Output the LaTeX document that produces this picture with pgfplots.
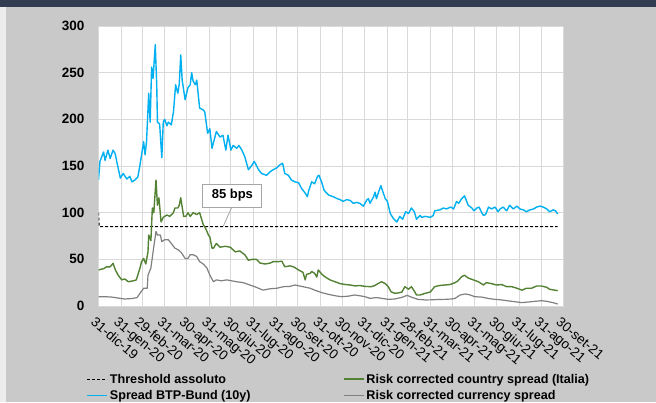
\documentclass[border=0pt]{standalone}
\usepackage{fontspec}
\setmainfont{Liberation Sans}
\usepackage{pgfplots}
\pgfplotsset{compat=1.18}

\definecolor{bgcol}{HTML}{C9C9C9}
\definecolor{stripcol}{HTML}{EDEDED}
\definecolor{titlecol}{HTML}{323D52}
\definecolor{gridcol}{HTML}{D9D9D9}
\definecolor{spreadblue}{HTML}{00B0F0}
\definecolor{countrygreen}{HTML}{548235}
\definecolor{currgrey}{HTML}{808080}
\definecolor{annotcol}{HTML}{A6A6A6}

\begin{document}
\begin{tikzpicture}[x=1pt,y=1pt]
\fill[bgcol] (0,0) rectangle (656,402);
\fill[stripcol] (0,0) rectangle (6,395);
\fill[titlecol] (0,395) rectangle (656,402);

\begin{axis}[
    at={(98.5pt,96pt)}, anchor=origin,
    scale only axis, width=465pt, height=280pt,
    xmin=0, xmax=639, ymin=0, ymax=300,
    xtick={0,31,60,91,121,152,182,213,244,274,305,335,366,397,425,456,486,517,547,578,609,639},
    xticklabels={31-dic-19,31-gen-20,29-feb-20,31-mar-20,30-apr-20,31-mag-20,30-giu-20,31-lug-20,31-ago-20,30-set-20,31-ott-20,30-nov-20,31-dic-20,31-gen-21,28-feb-21,31-mar-21,30-apr-21,31-mag-21,30-giu-21,31-lug-21,31-ago-21,30-set-21},
    ytick={0,50,...,300},
    major tick length=0pt,
    xmajorgrids, ymajorgrids,
    grid style={draw=gridcol, line width=0.9pt},
    axis line style={draw=gridcol, line width=0.9pt},
    axis background/.style={fill=white},
    /pgf/number format/assume math mode=true,
    xticklabel style={xshift=-2pt, yshift=-10pt, rotate=-40, anchor=north west, inner sep=0pt,
        font=\fontsize{13.5}{13}\selectfont},
    yticklabel style={xshift=-10.5pt, font=\bfseries\fontsize{13.5}{13.5}\selectfont},
    legend columns=2,
    legend cell align=left,
    legend style={at={(axis description cs:-0.027,-0.235)}, anchor=north west,
        draw=none, fill=none, inner sep=0pt, row sep=1.5pt,
        font=\bfseries\fontsize{12.6}{13}\selectfont,
        /tikz/every even column/.append style={column sep=90pt}},
    legend image code/.code={\draw[#1] (0pt,0pt) -- (20pt,0pt);},
]

\addplot[black, line width=1.1pt, dash pattern=on 3pt off 2pt] coordinates {
(0,100) (1,85) (631,85)
};
\addlegendentry{Threshold assoluto}

\addplot[countrygreen, line width=1.4pt, line join=round,
    legend image post style={line width=1.8pt}] coordinates {
(0,38.6) (7,40) (11,42) (16,42) (20,45.7) (23,39) (27,33) (32,28) (36,29) (41,26)
(48,27) (52,28) (57,40.7) (59,47) (62,51) (65,45) (68,58) (69,76) (72,70) (74,105)
(76,100) (79,135) (81,108) (83,116) (86,90) (89,95) (94,97.5) (98,96) (103,100) (105,105)
(109,105) (111,108) (113,116) (117,96) (120,96) (123,100) (126,96) (130,100) (135,98) (139,100)
(144,87) (146,85) (149,80) (151,76) (153,74) (156,62) (158,62) (162,67) (167,63) (174,64)
(181,63) (188,58) (194,59) (201,55) (206,49) (211,50) (217,50) (222,46) (229,45) (236,46)
(240,47.5) (247,47.5) (252,48) (256,42) (263,43) (268,42) (275,38.6) (281,36) (284,28) (286,34)
(291,35) (293,37) (297,35) (300,31) (302,38.6) (307,34) (311,31.4) (318,28) (325,26) (332,24)
(339,23) (346,22.5) (353,21.5) (359,22) (366,21) (375,20.7) (380,22) (384,24) (389,26) (394,24)
(398,21) (402,15.3) (407,13.6) (412,14) (417,15) (421,20.7) (426,18) (430,20.7) (434,16) (437,11.8)
(442,11.8) (449,13.6) (456,15) (462,20.7) (469,22) (476,22.5) (483,23) (490,25) (494,27) (499,31.4)
(503,33) (508,30) (515,28) (522,26) (529,22.5) (533,25) (540,24) (547,22.5) (554,23) (561,20.7)
(568,20.7) (575,19) (582,17) (588,19) (595,19) (602,21.4) (609,21.4) (616,20) (620,17.9) (627,17)
(631,16.4)
};
\addlegendentry{Risk corrected country spread (Italia)}

\addplot[spreadblue, line width=1.4pt, line join=round,
    legend image post style={line width=1.8pt}] coordinates {
(0,135) (2,155) (7,165) (9,156) (13,167) (16,158) (20,167) (23,163) (25,155) (30,137)
(34,142) (39,136) (43,139) (46,133) (50,135) (54,138) (57,151) (62,176) (64,162) (66,176)
(69,228) (71,197) (73,256) (75,244) (78,280) (80,237) (81,197) (84,195) (87,159) (89,197)
(91,200) (94,193) (96,197) (100,194) (103,208) (106,237) (109,228) (111,238) (113,269) (115,242)
(119,221) (123,234) (126,237) (128,250) (130,241) (133,237) (135,242) (139,212) (144,210) (146,208)
(150,185) (153,190) (156,169) (162,187) (167,181) (171,183) (175,167) (178,183) (182,167) (185,172)
(190,169) (193,172) (197,167) (201,160) (206,146) (211,151) (214,155) (220,146) (224,142) (231,140)
(236,144) (240,146) (245,148) (249,151) (253,153) (256,142) (261,140) (265,135) (270,133) (275,132)
(279,126) (284,121) (287,117) (289,124) (293,133) (297,131) (301,139) (303,140) (307,132) (310,124)
(316,119) (323,117) (328,115) (332,114) (336,112) (341,114) (346,113) (350,110) (355,111) (359,110)
(364,107) (369,114) (371,115) (373,110) (378,117) (380,122) (382,115) (384,120) (388,129) (391,122)
(394,115) (397,112) (401,99) (405,94) (410,90) (414,96) (418,93) (422,101) (426,99) (430,105)
(434,101) (437,93) (442,97) (444,95) (449,96) (456,95) (460,97) (462,102) (469,103) (474,105)
(478,104) (484,106) (488,104) (492,112) (495,110) (499,115) (503,118) (506,112) (508,108) (513,105)
(516,102) (520,105) (523,106) (526,101) (529,97) (532,98) (536,106) (540,104) (545,106) (549,101)
(552,104) (556,106) (561,102) (565,108) (570,104) (575,107) (579,104) (584,103) (588,101) (593,103)
(598,104) (602,106) (607,107) (611,106) (616,104) (620,101) (625,103) (628,102) (631,98.6)
};
\addlegendentry{Spread BTP-Bund (10y)}

\addplot[currgrey, line width=1.2pt, line join=round,
    legend image post style={line width=1.8pt}] coordinates {
(0,10) (9,10) (19,9.5) (27,8.5) (36,7.5) (46,8) (53,9) (57,13.6) (62,19) (67,19)
(68,33) (72,40.7) (75,58) (79,80) (81,76) (85,76) (87,69) (91,71) (96,71) (101,66)
(105,62) (110,60) (114,57) (119,51) (123,51) (126,55) (130,55) (135,53) (139,47.5) (144,45)
(149,40.7) (153,33) (158,26) (162,28) (169,27) (176,28) (183,27) (190,26) (199,25) (208,22.5)
(217,20) (226,17) (236,18.5) (245,19) (254,20.7) (263,21) (270,22.5) (281,20.7) (291,19) (297,17)
(307,14.3) (316,12.5) (325,11) (334,10) (343,10.5) (352,11.8) (359,11) (366,10) (373,8.2) (382,9)
(391,8) (398,7.1) (407,7.5) (417,9.3) (424,11.4) (430,9.5) (439,7.1) (449,6.5) (458,6.6) (467,7)
(476,7.1) (485,7.5) (490,8.2) (497,11.8) (504,12.9) (510,12) (517,10) (527,9.5) (536,8) (545,7.1)
(554,6.5) (563,5.5) (572,4.6) (582,3.6) (591,4.3) (600,5) (609,5.7) (616,5) (625,3.5) (631,2.1)
};
\addlegendentry{Risk corrected currency spread}

\draw[annotcol, line width=0.8pt] (axis cs:183,105.6) -- (axis cs:171.5,85.5);
\node[draw=annotcol, fill=white, line width=0.8pt, minimum width=59pt, minimum height=23pt,
    inner sep=0pt, font=\bfseries\fontsize{13}{13}\selectfont] at (axis cs:184,118.4) {85 bps};
\end{axis}

\pgfresetboundingbox
\useasboundingbox (0,0) rectangle (656,402);
\end{tikzpicture}
\end{document}
